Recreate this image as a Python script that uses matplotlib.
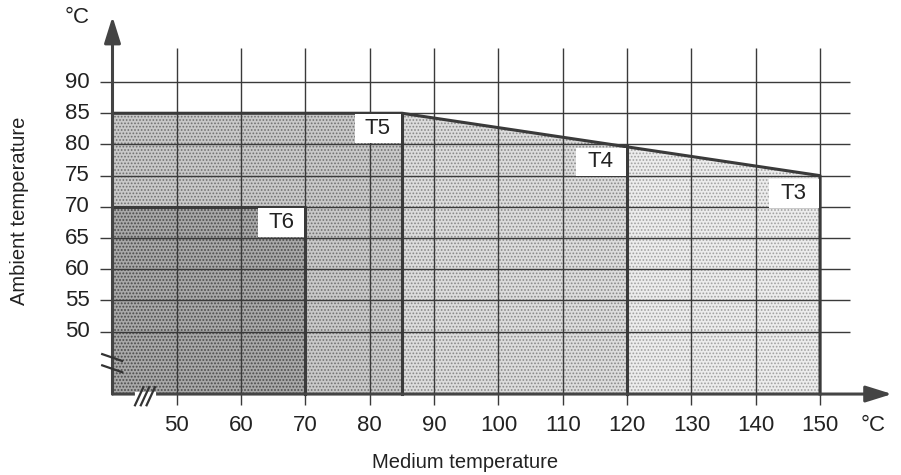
import matplotlib.pyplot as plt
from matplotlib.patches import Polygon, Rectangle

plt.rcParams['font.family'] = ['Liberation Sans', 'DejaVu Sans']
plt.rcParams['hatch.linewidth'] = 0.8

# temperature classes: max medium temperature and max ambient temperature
classes = ['T6', 'T5', 'T4', 'T3']
medium_max = [70, 85, 120, 150]
ambient_max = [70, 85, 79.7, 75]
medium_min = [40, 40, 85, 120]
ambient_left = [70, 85, 85, 79.7]   # ambient limit at the left edge of each zone
base_colors = ['#a8a8a8', '#c8c8c8', '#dcdcdc', '#ececec']
dot_colors = ['#555555', '#707070', '#888888', '#a0a0a0']

x_ticks = [50, 60, 70, 80, 90, 100, 110, 120, 130, 140, 150]
y_ticks = [50, 55, 60, 65, 70, 75, 80, 85, 90]

# label box positions (data coords, lower-left, w, h)
label_boxes = {
    'T6': (62.6, 65.2, 7.2, 4.6),
    'T5': (77.7, 80.2, 7.1, 4.6),
    'T4': (112.0, 75.0, 7.8, 4.4),
    'T3': (142.0, 69.8, 7.8, 4.6),
}

fig = plt.figure(figsize=(9.01, 4.75), dpi=100)
ax = fig.add_axes([0.0963, 0.1179, 0.8995, 0.867])
ax.set_xlim(36, 162)
ax.set_ylim(36, 102)
ax.axis('off')

line_c = '#3a3a3a'
txt_c = '#222222'

# zones, widest first so the smaller zones sit on top
for name, x0, x1, yl, yr, c, dc in reversed(list(zip(classes, medium_min, medium_max,
                                                        ambient_left, ambient_max,
                                                        base_colors, dot_colors))):
    if name in ('T6', 'T5'):
        pts = [(40, 40), (40, yl), (x1, yr), (x1, 40)]
    else:
        pts = [(x0, 40), (x0, yl), (x1, yr), (x1, 40)]
    ax.add_patch(Polygon(pts, closed=True, facecolor=c, edgecolor='none', zorder=1))
    ax.add_patch(Polygon(pts, closed=True, facecolor='none', edgecolor=dc,
                         hatch='.....', lw=0, zorder=1.5))

# grid + ticks
ax.vlines(x_ticks, 38.2, 95.4, color=line_c, lw=1.0, zorder=2)
ax.hlines(y_ticks, 38.0, 154.6, color=line_c, lw=1.0, zorder=2)

# zone outlines
lw_b = 2.2
ax.plot([40, 85, 150, 150], [85, 85, 75, 40], color=line_c, lw=lw_b, zorder=3)
ax.plot([85, 85], [40, 85], color=line_c, lw=lw_b, zorder=3)
ax.plot([120, 120], [40, ambient_max[2]], color=line_c, lw=lw_b, zorder=3)
ax.plot([40, 70, 70], [70, 70, 40], color=line_c, lw=lw_b, zorder=3)

# axes with arrows
ax.annotate('', xy=(161.2, 40), xytext=(40, 40),
            arrowprops=dict(arrowstyle='-|>,head_length=1.6,head_width=0.5',
                            color='#444444', lw=2.2, shrinkA=0, shrinkB=0), zorder=4)
ax.annotate('', xy=(40, 100.5), xytext=(40, 40),
            arrowprops=dict(arrowstyle='-|>,head_length=1.6,head_width=0.5',
                            color='#444444', lw=2.2, shrinkA=0, shrinkB=0), zorder=4)

# axis break marks
ax.plot([43.8, 46.4], [40, 40], color='white', lw=3, zorder=5)
for xs in [(43.5, 44.8), (44.4, 45.7), (45.3, 46.6)]:
    ax.plot(xs, [38.2, 41.1], color='#333333', lw=1.6, zorder=6)
for ys in [(46.4, 45.3), (44.6, 43.5)]:
    ax.plot([38.4, 41.5], ys, color='#333333', lw=1.6, zorder=6)

# class labels in white boxes
for name in classes:
    x, y, w, h = label_boxes[name]
    ax.add_patch(Rectangle((x, y), w, h, facecolor='white', edgecolor='none', zorder=7))
    ax.text(x + w / 2, y + h / 2, name, ha='center', va='center', fontsize=16,
            color=txt_c, zorder=8)

# tick labels
for v in x_ticks:
    ax.text(v, 35.0, str(v), ha='center', va='center', fontsize=16, color=txt_c)
for v in y_ticks:
    ax.text(36.5, v, str(v), ha='right', va='center', fontsize=16, color=txt_c)

ax.text(34.5, 100.4, '°C', ha='center', va='center', fontsize=16, color=txt_c)
ax.text(158.3, 35.0, '°C', ha='center', va='center', fontsize=16, color=txt_c)

fig.text(465 / 901, 1 - 462 / 475, 'Medium temperature', ha='center', va='center',
         fontsize=14.5, color=txt_c)
fig.text(20 / 901, 1 - 211 / 475, 'Ambient temperature', ha='center', va='center',
         rotation=90, fontsize=14.5, color=txt_c)

fig.savefig('out.png', dpi=100)
